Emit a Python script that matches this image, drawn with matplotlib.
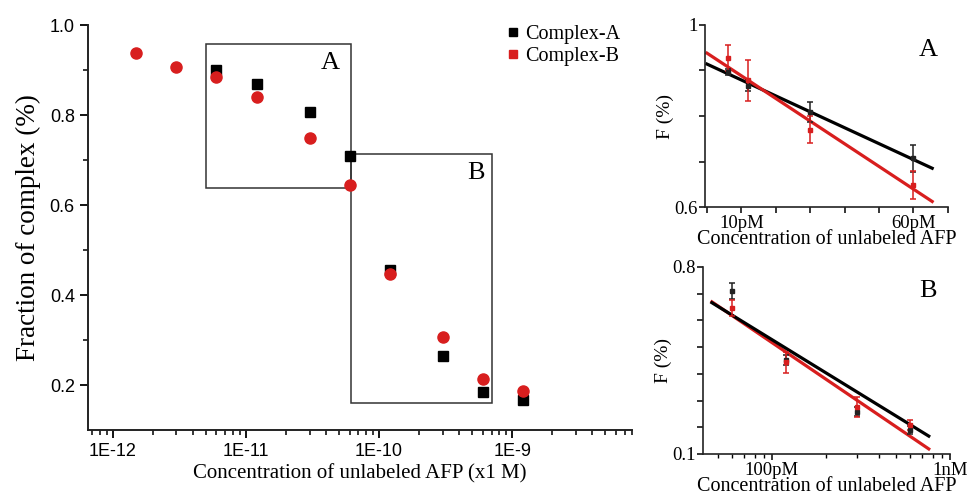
import numpy as np
import matplotlib
matplotlib.use("Agg")
import matplotlib.pyplot as plt
from matplotlib.patches import Rectangle
from matplotlib.ticker import FixedLocator, LogLocator, NullFormatter, FixedFormatter

SERIF = "Liberation Serif"
SANS = "Liberation Sans"
RED = "#d81e1e"

# main panel data
conc = [1.5e-12, 3e-12, 6e-12, 1.2e-11, 3e-11, 6e-11, 1.2e-10, 3e-10, 6e-10, 1.2e-9]
conc_a = [6e-12, 1.2e-11, 3e-11, 6e-11, 1.2e-10, 3e-10, 6e-10, 1.2e-9]
frac_a = [0.901, 0.870, 0.807, 0.709, 0.455, 0.265, 0.185, 0.167]
frac_b = [0.937, 0.906, 0.885, 0.841, 0.750, 0.644, 0.447, 0.306, 0.213, 0.187]
boxes = {"A": (5e-12, 6.1e-11, 0.639, 0.959), "B": (6.1e-11, 7.1e-10, 0.159, 0.714)}
box_label_pos = {"A": (4.3e-11, 0.915), "B": (5.3e-10, 0.672)}

# inset A (pM, linear)
conc_ia = [6, 12, 30, 60]
fa_black = [0.896, 0.867, 0.809, 0.707]
ea_black = [0.007, 0.011, 0.022, 0.030]
fa_red = [0.927, 0.878, 0.770, 0.649]
ea_red = [0.029, 0.045, 0.030, 0.031]
fit_a_black = (-0.00349, 0.914)   # slope per pM, intercept
fit_a_red = (-0.00497, 0.938)
fit_a_range = (0, 65.5)

# inset B (pM, log x)
conc_ib = [60, 120, 300, 600]
fb_black = [0.711, 0.452, 0.259, 0.190]
eb_black = [0.029, 0.019, 0.015, 0.014]
fb_red = [0.646, 0.443, 0.277, 0.209]
eb_red = [0.030, 0.040, 0.038, 0.020]
fit_b_black = (-0.410, 0.528)     # slope per decade, value at 100 pM
fit_b_red = (-0.452, 0.517)
fit_b_range = (46, 760)

fig = plt.figure(figsize=(9.67, 4.98), dpi=100)

# ---- main plot
ax = fig.add_axes([0.091, 0.1365, 0.563, 0.813])
ax.plot(conc_a, frac_a, "s", color="black", ms=7, label="Complex-A", zorder=3)
ax.plot(conc, frac_b, "o", color=RED, ms=8, label="Complex-B", zorder=4)
for k, (x0, x1, y0, y1) in boxes.items():
    ax.add_patch(Rectangle((x0, y0), x1 - x0, y1 - y0, fill=False,
                           ec="#333333", lw=1.1, zorder=2))
    ax.text(*box_label_pos[k], k, family=SERIF, fontsize=19, ha="center", va="center")
ax.set_xscale("log")
ax.set_xlim(6.5e-13, 8e-9)
ax.set_ylim(0.1, 1.0)
ax.set_yticks([0.2, 0.4, 0.6, 0.8, 1.0])
ax.set_yticks([0.3, 0.5, 0.7, 0.9], minor=True)
ax.set_yticklabels(["0.2", "0.4", "0.6", "0.8", "1.0"])
ax.xaxis.set_major_locator(FixedLocator([1e-12, 1e-11, 1e-10, 1e-9]))
ax.set_xticklabels(["1E-12", "1E-11", "1E-10", "1E-9"])
ax.xaxis.set_minor_locator(LogLocator(base=10, subs=np.arange(2, 10), numticks=20))
ax.xaxis.set_minor_formatter(NullFormatter())
for s in ["top", "right"]:
    ax.spines[s].set_visible(False)
for s in ["left", "bottom"]:
    ax.spines[s].set_linewidth(1.4)
    ax.spines[s].set_color("#222222")
ax.tick_params(which="major", length=6, width=1.3, direction="out", labelsize=13)
ax.tick_params(which="minor", length=3.5, width=1.1, direction="out")
for t in ax.get_xticklabels() + ax.get_yticklabels():
    t.set_family(SANS)
ax.set_xlabel("Concentration of unlabeled AFP (x1 M)", family=SERIF, fontsize=15, labelpad=3)
ax.set_ylabel("Fraction of complex (%)", family=SERIF, fontsize=19.5, labelpad=6)
leg_handles = [plt.Line2D([], [], ls="", marker="s", color=c, ms=5.5) for c in ["black", RED]]
ax.legend(leg_handles, ["Complex-A", "Complex-B"], loc="upper right",
          bbox_to_anchor=(0.985, 1.01), borderaxespad=0, borderpad=0.2,
          frameon=False, handletextpad=0.1, handlelength=1.0,
          labelspacing=0.15, prop={"family": SERIF, "size": 14.5})


def style_inset(a):
    for s in ["top", "right"]:
        a.spines[s].set_visible(False)
    for s in ["left", "bottom"]:
        a.spines[s].set_linewidth(1.2)
        a.spines[s].set_color("#222222")
    a.tick_params(which="major", length=4, width=1.1, direction="out", labelsize=13.5, pad=1.5)
    a.tick_params(which="minor", length=3, width=1.0, direction="out")
    for t in a.get_xticklabels() + a.get_yticklabels():
        t.set_family(SERIF)
    a.set_xlabel("Concentration of unlabeled AFP", family=SERIF, fontsize=14.5, labelpad=-1)
    a.set_ylabel("F (%)", family=SERIF, fontsize=14, labelpad=0)


# ---- inset A
axa = fig.add_axes([0.729, 0.584, 0.251, 0.366])
xa = np.linspace(*fit_a_range, 50)
axa.plot(xa, fit_a_black[0] * xa + fit_a_black[1], color="black", lw=2.3)
axa.plot(xa, fit_a_red[0] * xa + fit_a_red[1], color=RED, lw=2.3)
axa.errorbar(conc_ia, fa_black, yerr=ea_black, fmt="s", color="#222222", ms=3.5,
             capsize=2.5, elinewidth=1.1, capthick=1.1)
axa.errorbar(conc_ia, fa_red, yerr=ea_red, fmt="s", color=RED, ms=3.5,
             capsize=2.5, elinewidth=1.1, capthick=1.1)
axa.set_xlim(-0.6, 70)
axa.set_ylim(0.6, 1.0)
axa.xaxis.set_major_locator(FixedLocator(np.arange(0, 71, 10)))
axa.xaxis.set_major_formatter(FixedFormatter(["", "10pM", "", "", "", "", "60pM", ""]))
axa.yaxis.set_major_locator(FixedLocator([0.6, 0.7, 0.8, 0.9, 1.0]))
axa.yaxis.set_major_formatter(FixedFormatter(["0.6", "", "", "", "1"]))
axa.text(0.92, 0.86, "A", transform=axa.transAxes, family=SERIF, fontsize=19,
         ha="center", va="center")
style_inset(axa)

# ---- inset B
axb = fig.add_axes([0.727, 0.0884, 0.2554, 0.3755])
xb = np.logspace(np.log10(fit_b_range[0]), np.log10(fit_b_range[1]), 50)
axb.plot(xb, fit_b_red[0] * np.log10(xb / 100) + fit_b_red[1], color=RED, lw=2.3)
axb.plot(xb, fit_b_black[0] * np.log10(xb / 100) + fit_b_black[1], color="black", lw=2.3)
axb.errorbar(conc_ib, fb_black, yerr=eb_black, fmt="s", color="#222222", ms=3.5,
             capsize=2.5, elinewidth=1.1, capthick=1.1)
axb.errorbar(conc_ib, fb_red, yerr=eb_red, fmt="s", color=RED, ms=3.5,
             capsize=2.5, elinewidth=1.1, capthick=1.1)
axb.set_xscale("log")
axb.set_xlim(41, 1000)
axb.set_ylim(0.1, 0.8)
axb.xaxis.set_major_locator(FixedLocator([100, 1000]))
axb.xaxis.set_major_formatter(FixedFormatter(["100pM", "1nM"]))
axb.xaxis.set_minor_locator(LogLocator(base=10, subs=np.arange(2, 10), numticks=20))
axb.xaxis.set_minor_formatter(NullFormatter())
axb.yaxis.set_major_locator(FixedLocator(np.arange(0.1, 0.81, 0.1)))
axb.yaxis.set_major_formatter(FixedFormatter(["0.1", "", "", "", "", "", "", "0.8"]))
axb.text(0.91, 0.87, "B", transform=axb.transAxes, family=SERIF, fontsize=19,
         ha="center", va="center")
style_inset(axb)

fig.savefig("out.png", dpi=100)
